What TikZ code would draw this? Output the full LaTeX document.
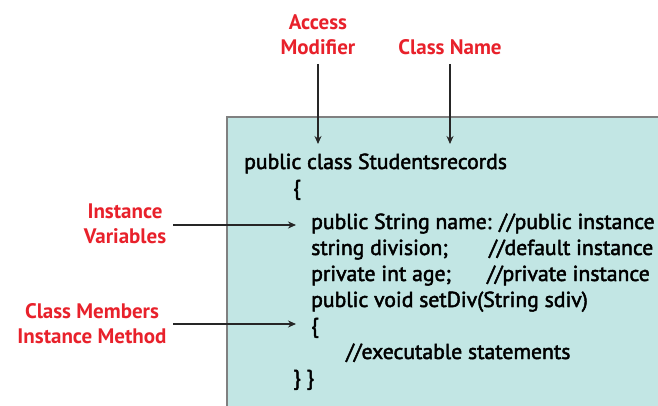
\documentclass[tikz,border=0pt]{standalone}
\usepackage{fontspec}
\setmainfont{PT Sans}
\newfontfamily\codefont{PT Sans}[RawFeature={embolden=2.2}]
\usetikzlibrary{arrows.meta}
\definecolor{labelred}{HTML}{E8212B}
\definecolor{boxfill}{HTML}{C2E6E4}
\definecolor{boxline}{HTML}{808080}
\tikzset{
  lbl/.style={font=\fontsize{21}{25}\selectfont\bfseries, text=labelred, align=center, inner sep=0pt},
  code/.style={font=\fontsize{21.7}{26}\selectfont\codefont, anchor=base west, inner sep=0pt},
  pointer/.style={draw=black!85, line width=1.1pt, -{Stealth[length=8pt,width=7pt]}},
}
\begin{document}
\begin{tikzpicture}[x=1pt,y=-1pt]
  \useasboundingbox (0,0) rectangle (658,406);
  % code panel
  \path[fill=boxfill, draw=boxline, line width=1.5pt] (227,117) rectangle (670,420);

  % code text
  \node[code] (l1) at (244,169) {public class Studentsrecords};
  \node[code] (l2) at (293,195) {\{};
  \node[code] (l3) at (311,229) {public String name: //public instance};
  \node[code] (l4) at (311,255) {string division;};
  \node[code] (c4) at (489,255) {//default instance};
  \node[code] (l5) at (311,281) {private int age;};
  \node[code] (c5) at (487,281) {//private instance};
  \node[code] (l6) at (311,307) {public void setDiv(String sdiv)};
  \node[code] (l7) at (311,333) {\{};
  \node[code] (l8) at (346,359) {//executable statements};
  \node[code] (l9) at (293,385) {\} \}};

  % labels (base anchor sits on the last line)
  \node[lbl, anchor=base] (am) at (318,55) {Access\\Modifier};
  \node[lbl, anchor=base] (cn) at (450,55) {Class Name};
  \node[lbl, anchor=base] (iv) at (125,243) {Instance\\Variables};
  \node[lbl, anchor=base] (cm) at (92,343) {Class Members\\Instance Method};

  % pointer end points
  \coordinate (amS) at (318,64);
  \coordinate (amE) at (318,144);
  \coordinate (cnS) at (450,64);
  \coordinate (cnE) at (450,144);
  \coordinate (ivS) at (173,225);
  \coordinate (ivE) at (296,225);
  \coordinate (cmS) at (173,324);
  \coordinate (cmE) at (296,324);

  \draw[pointer] (amS) -- (amE);
  \draw[pointer] (cnS) -- (cnE);
  \draw[pointer] (ivS) -- (ivE);
  \draw[pointer] (cmS) -- (cmE);
\end{tikzpicture}
\end{document}
